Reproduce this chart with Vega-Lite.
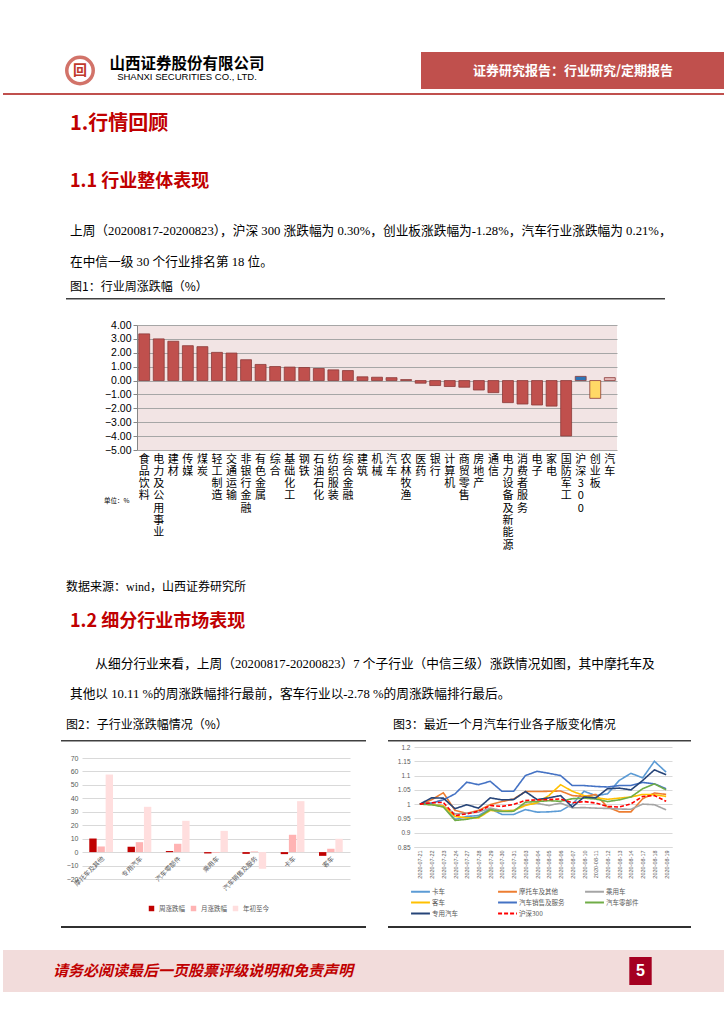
{
  "$schema": "https://vega.github.io/schema/vega-lite/v6.json",
  "background": "white",
  "padding": {"left": 0, "top": 50, "right": 0, "bottom": 0},
  "config": {
    "view": {"stroke": null},
    "font": "Noto Sans CJK SC",
    "title": {"anchor": "start", "frame": "group", "offset": 0, "font": "Noto Sans CJK SC", "fontWeight": "normal", "color": "#000"}
  },
  "datasets": {
    "blank": [{}],
    "industry": [
      {"name": "食品饮料", "v": 3.36, "grp": "行业"},
      {"name": "电力及公用事业", "v": 3.0, "grp": "行业"},
      {"name": "建材", "v": 2.83, "grp": "行业"},
      {"name": "传媒", "v": 2.51, "grp": "行业"},
      {"name": "煤炭", "v": 2.44, "grp": "行业"},
      {"name": "轻工制造", "v": 2.03, "grp": "行业"},
      {"name": "交通运输", "v": 1.98, "grp": "行业"},
      {"name": "非银行金融", "v": 1.5, "grp": "行业"},
      {"name": "有色金属", "v": 1.16, "grp": "行业"},
      {"name": "综合", "v": 1.01, "grp": "行业"},
      {"name": "基础化工", "v": 0.97, "grp": "行业"},
      {"name": "钢铁", "v": 0.94, "grp": "行业"},
      {"name": "石油石化", "v": 0.87, "grp": "行业"},
      {"name": "纺织服装", "v": 0.77, "grp": "行业"},
      {"name": "综合金融", "v": 0.72, "grp": "行业"},
      {"name": "建筑", "v": 0.27, "grp": "行业"},
      {"name": "机械", "v": 0.24, "grp": "行业"},
      {"name": "汽车", "v": 0.21, "grp": "行业"},
      {"name": "农林牧渔", "v": 0.07, "grp": "行业"},
      {"name": "医药", "v": -0.19, "grp": "行业"},
      {"name": "银行", "v": -0.36, "grp": "行业"},
      {"name": "计算机", "v": -0.43, "grp": "行业"},
      {"name": "商贸零售", "v": -0.48, "grp": "行业"},
      {"name": "房地产", "v": -0.68, "grp": "行业"},
      {"name": "通信", "v": -0.87, "grp": "行业"},
      {"name": "电力设备及新能源", "v": -1.59, "grp": "行业"},
      {"name": "消费者服务", "v": -1.69, "grp": "行业"},
      {"name": "电子", "v": -1.76, "grp": "行业"},
      {"name": "家电", "v": -1.84, "grp": "行业"},
      {"name": "国防军工", "v": -3.99, "grp": "行业"},
      {"name": "沪深300", "v": 0.3, "grp": "沪深300"},
      {"name": "创业板", "v": -1.28, "grp": "创业板"},
      {"name": "汽车 ", "v": 0.21, "grp": "汽车"}
    ],
    "sub": [
      {"sub": "摩托车及其他", "series": "周涨跌幅", "v": 10.11},
      {"sub": "摩托车及其他", "series": "月涨跌幅", "v": 4.2},
      {"sub": "摩托车及其他", "series": "年初至今", "v": 57.7},
      {"sub": "专用汽车", "series": "周涨跌幅", "v": 4.0},
      {"sub": "专用汽车", "series": "月涨跌幅", "v": 7.4},
      {"sub": "专用汽车", "series": "年初至今", "v": 33.7},
      {"sub": "汽车零部件", "series": "周涨跌幅", "v": 0.8},
      {"sub": "汽车零部件", "series": "月涨跌幅", "v": 6.2},
      {"sub": "汽车零部件", "series": "年初至今", "v": 23.3},
      {"sub": "乘用车", "series": "周涨跌幅", "v": -1.0},
      {"sub": "乘用车", "series": "月涨跌幅", "v": -0.5},
      {"sub": "乘用车", "series": "年初至今", "v": 15.8},
      {"sub": "汽车销售及服务", "series": "周涨跌幅", "v": -1.3},
      {"sub": "汽车销售及服务", "series": "月涨跌幅", "v": 0.5},
      {"sub": "汽车销售及服务", "series": "年初至今", "v": -12.4},
      {"sub": "卡车", "series": "周涨跌幅", "v": -1.5},
      {"sub": "卡车", "series": "月涨跌幅", "v": 12.9},
      {"sub": "卡车", "series": "年初至今", "v": 37.9},
      {"sub": "客车", "series": "周涨跌幅", "v": -2.78},
      {"sub": "客车", "series": "月涨跌幅", "v": 2.5},
      {"sub": "客车", "series": "年初至今", "v": 9.9}
    ],
    "lines": [
      {"d": "2020-07-21", "s": "卡车", "v": 1.0}, {"d": "2020-07-22", "s": "卡车", "v": 1.0}, {"d": "2020-07-23", "s": "卡车", "v": 0.994}, {"d": "2020-07-24", "s": "卡车", "v": 0.947}, {"d": "2020-07-27", "s": "卡车", "v": 0.957}, {"d": "2020-07-28", "s": "卡车", "v": 0.96}, {"d": "2020-07-29", "s": "卡车", "v": 0.984}, {"d": "2020-07-30", "s": "卡车", "v": 0.964}, {"d": "2020-07-31", "s": "卡车", "v": 0.964}, {"d": "2020-08-03", "s": "卡车", "v": 0.981}, {"d": "2020-08-04", "s": "卡车", "v": 0.972}, {"d": "2020-08-05", "s": "卡车", "v": 0.973}, {"d": "2020-08-06", "s": "卡车", "v": 0.976}, {"d": "2020-08-07", "s": "卡车", "v": 1.0}, {"d": "2020-08-10", "s": "卡车", "v": 1.045}, {"d": "2020-08-11", "s": "卡车", "v": 1.03}, {"d": "2020-08-12", "s": "卡车", "v": 1.036}, {"d": "2020-08-13", "s": "卡车", "v": 1.083}, {"d": "2020-08-14", "s": "卡车", "v": 1.108}, {"d": "2020-08-17", "s": "卡车", "v": 1.092}, {"d": "2020-08-18", "s": "卡车", "v": 1.15}, {"d": "2020-08-19", "s": "卡车", "v": 1.112},
      {"d": "2020-07-21", "s": "摩托车及其他", "v": 1.0}, {"d": "2020-07-22", "s": "摩托车及其他", "v": 1.015}, {"d": "2020-07-23", "s": "摩托车及其他", "v": 1.04}, {"d": "2020-07-24", "s": "摩托车及其他", "v": 0.978}, {"d": "2020-07-27", "s": "摩托车及其他", "v": 0.968}, {"d": "2020-07-28", "s": "摩托车及其他", "v": 0.978}, {"d": "2020-07-29", "s": "摩托车及其他", "v": 0.998}, {"d": "2020-07-30", "s": "摩托车及其他", "v": 1.009}, {"d": "2020-07-31", "s": "摩托车及其他", "v": 1.018}, {"d": "2020-08-03", "s": "摩托车及其他", "v": 1.044}, {"d": "2020-08-04", "s": "摩托车及其他", "v": 1.044}, {"d": "2020-08-05", "s": "摩托车及其他", "v": 1.045}, {"d": "2020-08-06", "s": "摩托车及其他", "v": 1.046}, {"d": "2020-08-07", "s": "摩托车及其他", "v": 1.03}, {"d": "2020-08-10", "s": "摩托车及其他", "v": 1.027}, {"d": "2020-08-11", "s": "摩托车及其他", "v": 1.034}, {"d": "2020-08-12", "s": "摩托车及其他", "v": 0.99}, {"d": "2020-08-13", "s": "摩托车及其他", "v": 0.973}, {"d": "2020-08-14", "s": "摩托车及其他", "v": 0.973}, {"d": "2020-08-17", "s": "摩托车及其他", "v": 1.019}, {"d": "2020-08-18", "s": "摩托车及其他", "v": 1.039}, {"d": "2020-08-19", "s": "摩托车及其他", "v": 1.034},
      {"d": "2020-07-21", "s": "乘用车", "v": 1.0}, {"d": "2020-07-22", "s": "乘用车", "v": 0.999}, {"d": "2020-07-23", "s": "乘用车", "v": 0.994}, {"d": "2020-07-24", "s": "乘用车", "v": 0.966}, {"d": "2020-07-27", "s": "乘用车", "v": 0.968}, {"d": "2020-07-28", "s": "乘用车", "v": 0.972}, {"d": "2020-07-29", "s": "乘用车", "v": 0.986}, {"d": "2020-07-30", "s": "乘用车", "v": 0.978}, {"d": "2020-07-31", "s": "乘用车", "v": 0.978}, {"d": "2020-08-03", "s": "乘用车", "v": 0.999}, {"d": "2020-08-04", "s": "乘用车", "v": 1.003}, {"d": "2020-08-05", "s": "乘用车", "v": 0.995}, {"d": "2020-08-06", "s": "乘用车", "v": 1.004}, {"d": "2020-08-07", "s": "乘用车", "v": 0.987}, {"d": "2020-08-10", "s": "乘用车", "v": 0.988}, {"d": "2020-08-11", "s": "乘用车", "v": 0.986}, {"d": "2020-08-12", "s": "乘用车", "v": 0.985}, {"d": "2020-08-13", "s": "乘用车", "v": 0.983}, {"d": "2020-08-14", "s": "乘用车", "v": 0.982}, {"d": "2020-08-17", "s": "乘用车", "v": 1.0}, {"d": "2020-08-18", "s": "乘用车", "v": 0.998}, {"d": "2020-08-19", "s": "乘用车", "v": 0.98},
      {"d": "2020-07-21", "s": "客车", "v": 1.0}, {"d": "2020-07-22", "s": "客车", "v": 0.999}, {"d": "2020-07-23", "s": "客车", "v": 0.993}, {"d": "2020-07-24", "s": "客车", "v": 0.957}, {"d": "2020-07-27", "s": "客车", "v": 0.952}, {"d": "2020-07-28", "s": "客车", "v": 0.952}, {"d": "2020-07-29", "s": "客车", "v": 0.978}, {"d": "2020-07-30", "s": "客车", "v": 0.975}, {"d": "2020-07-31", "s": "客车", "v": 0.978}, {"d": "2020-08-03", "s": "客车", "v": 0.995}, {"d": "2020-08-04", "s": "客车", "v": 1.005}, {"d": "2020-08-05", "s": "客车", "v": 1.03}, {"d": "2020-08-06", "s": "客车", "v": 1.068}, {"d": "2020-08-07", "s": "客车", "v": 1.045}, {"d": "2020-08-10", "s": "客车", "v": 1.03}, {"d": "2020-08-11", "s": "客车", "v": 1.022}, {"d": "2020-08-12", "s": "客车", "v": 1.017}, {"d": "2020-08-13", "s": "客车", "v": 1.021}, {"d": "2020-08-14", "s": "客车", "v": 1.025}, {"d": "2020-08-17", "s": "客车", "v": 1.034}, {"d": "2020-08-18", "s": "客车", "v": 1.033}, {"d": "2020-08-19", "s": "客车", "v": 1.027},
      {"d": "2020-07-21", "s": "汽车销售及服务", "v": 1.0}, {"d": "2020-07-22", "s": "汽车销售及服务", "v": 1.004}, {"d": "2020-07-23", "s": "汽车销售及服务", "v": 1.015}, {"d": "2020-07-24", "s": "汽车销售及服务", "v": 1.036}, {"d": "2020-07-27", "s": "汽车销售及服务", "v": 1.077}, {"d": "2020-07-28", "s": "汽车销售及服务", "v": 1.068}, {"d": "2020-07-29", "s": "汽车销售及服务", "v": 1.08}, {"d": "2020-07-30", "s": "汽车销售及服务", "v": 1.045}, {"d": "2020-07-31", "s": "汽车销售及服务", "v": 1.045}, {"d": "2020-08-03", "s": "汽车销售及服务", "v": 1.1}, {"d": "2020-08-04", "s": "汽车销售及服务", "v": 1.115}, {"d": "2020-08-05", "s": "汽车销售及服务", "v": 1.108}, {"d": "2020-08-06", "s": "汽车销售及服务", "v": 1.1}, {"d": "2020-08-07", "s": "汽车销售及服务", "v": 1.065}, {"d": "2020-08-10", "s": "汽车销售及服务", "v": 1.065}, {"d": "2020-08-11", "s": "汽车销售及服务", "v": 1.062}, {"d": "2020-08-12", "s": "汽车销售及服务", "v": 1.06}, {"d": "2020-08-13", "s": "汽车销售及服务", "v": 1.065}, {"d": "2020-08-14", "s": "汽车销售及服务", "v": 1.065}, {"d": "2020-08-17", "s": "汽车销售及服务", "v": 1.076}, {"d": "2020-08-18", "s": "汽车销售及服务", "v": 1.071}, {"d": "2020-08-19", "s": "汽车销售及服务", "v": 1.054},
      {"d": "2020-07-21", "s": "汽车零部件", "v": 1.0}, {"d": "2020-07-22", "s": "汽车零部件", "v": 0.998}, {"d": "2020-07-23", "s": "汽车零部件", "v": 0.99}, {"d": "2020-07-24", "s": "汽车零部件", "v": 0.943}, {"d": "2020-07-27", "s": "汽车零部件", "v": 0.947}, {"d": "2020-07-28", "s": "汽车零部件", "v": 0.955}, {"d": "2020-07-29", "s": "汽车零部件", "v": 0.981}, {"d": "2020-07-30", "s": "汽车零部件", "v": 0.974}, {"d": "2020-07-31", "s": "汽车零部件", "v": 0.975}, {"d": "2020-08-03", "s": "汽车零部件", "v": 1.007}, {"d": "2020-08-04", "s": "汽车零部件", "v": 1.009}, {"d": "2020-08-05", "s": "汽车零部件", "v": 1.012}, {"d": "2020-08-06", "s": "汽车零部件", "v": 1.01}, {"d": "2020-08-07", "s": "汽车零部件", "v": 1.019}, {"d": "2020-08-10", "s": "汽车零部件", "v": 1.021}, {"d": "2020-08-11", "s": "汽车零部件", "v": 1.018}, {"d": "2020-08-12", "s": "汽车零部件", "v": 1.009}, {"d": "2020-08-13", "s": "汽车零部件", "v": 1.015}, {"d": "2020-08-14", "s": "汽车零部件", "v": 1.025}, {"d": "2020-08-17", "s": "汽车零部件", "v": 1.054}, {"d": "2020-08-18", "s": "汽车零部件", "v": 1.071}, {"d": "2020-08-19", "s": "汽车零部件", "v": 1.05},
      {"d": "2020-07-21", "s": "专用汽车", "v": 1.0}, {"d": "2020-07-22", "s": "专用汽车", "v": 1.022}, {"d": "2020-07-23", "s": "专用汽车", "v": 1.021}, {"d": "2020-07-24", "s": "专用汽车", "v": 0.984}, {"d": "2020-07-27", "s": "专用汽车", "v": 0.998}, {"d": "2020-07-28", "s": "专用汽车", "v": 0.986}, {"d": "2020-07-29", "s": "专用汽车", "v": 1.022}, {"d": "2020-07-30", "s": "专用汽车", "v": 1.015}, {"d": "2020-07-31", "s": "专用汽车", "v": 1.016}, {"d": "2020-08-03", "s": "专用汽车", "v": 1.044}, {"d": "2020-08-04", "s": "专用汽车", "v": 1.016}, {"d": "2020-08-05", "s": "专用汽车", "v": 1.022}, {"d": "2020-08-06", "s": "专用汽车", "v": 1.03}, {"d": "2020-08-07", "s": "专用汽车", "v": 0.99}, {"d": "2020-08-10", "s": "专用汽车", "v": 1.025}, {"d": "2020-08-11", "s": "专用汽车", "v": 1.022}, {"d": "2020-08-12", "s": "专用汽车", "v": 1.054}, {"d": "2020-08-13", "s": "专用汽车", "v": 1.056}, {"d": "2020-08-14", "s": "专用汽车", "v": 1.05}, {"d": "2020-08-17", "s": "专用汽车", "v": 1.083}, {"d": "2020-08-18", "s": "专用汽车", "v": 1.12}, {"d": "2020-08-19", "s": "专用汽车", "v": 1.103},
      {"d": "2020-07-21", "s": "沪深300", "v": 1.0}, {"d": "2020-07-22", "s": "沪深300", "v": 1.005}, {"d": "2020-07-23", "s": "沪深300", "v": 1.006}, {"d": "2020-07-24", "s": "沪深300", "v": 0.96}, {"d": "2020-07-27", "s": "沪深300", "v": 0.966}, {"d": "2020-07-28", "s": "沪深300", "v": 0.975}, {"d": "2020-07-29", "s": "沪深300", "v": 0.995}, {"d": "2020-07-30", "s": "沪深300", "v": 0.992}, {"d": "2020-07-31", "s": "沪深300", "v": 0.999}, {"d": "2020-08-03", "s": "沪深300", "v": 1.013}, {"d": "2020-08-04", "s": "沪深300", "v": 1.015}, {"d": "2020-08-05", "s": "沪深300", "v": 1.016}, {"d": "2020-08-06", "s": "沪深300", "v": 1.018}, {"d": "2020-08-07", "s": "沪深300", "v": 1.005}, {"d": "2020-08-10", "s": "沪深300", "v": 1.009}, {"d": "2020-08-11", "s": "沪深300", "v": 1.004}, {"d": "2020-08-12", "s": "沪深300", "v": 0.992}, {"d": "2020-08-13", "s": "沪深300", "v": 0.99}, {"d": "2020-08-14", "s": "沪深300", "v": 1.001}, {"d": "2020-08-17", "s": "沪深300", "v": 1.027}, {"d": "2020-08-18", "s": "沪深300", "v": 1.03}, {"d": "2020-08-19", "s": "沪深300", "v": 1.01}
    ]
  },
  "columns": 1,
  "align": "none",
  "bounds": "full",
  "spacing": 0,
  "resolve": {"scale": {"color": "independent", "strokeDash": "independent"}, "legend": {"color": "independent", "strokeDash": "independent"}},
  "concat": [
    {
      "spacing": 0,
      "hconcat": [
        {"width": 56, "height": 37, "data": {"name": "blank"}, "mark": {"type": "point", "opacity": 0}},
        {"width": 30, "height": 37, "data": {"values": [{"t": "回"}]}, "layer": [
          {"mark": {"type": "point", "shape": "circle", "size": 700, "filled": false, "stroke": "#c0392b", "strokeWidth": 3.5}},
          {"mark": {"type": "text", "fontSize": 14, "fontWeight": "bold", "color": "#c0392b"}, "encoding": {"text": {"field": "t"}}}
        ]},
        {"width": 4, "height": 37, "data": {"name": "blank"}, "mark": {"type": "point", "opacity": 0}},
        {"width": 160, "height": 37, "layer": [
          {"data": {"values": [{"line": 1, "t": "山西证券股份有限公司"}]}, "mark": {"type": "text", "fontSize": 15.5, "fontWeight": "bold", "color": "#000"}, "encoding": {"y": {"field": "line", "type": "ordinal", "scale": {"domain": [1, 2], "padding": 0.92}, "axis": null}, "text": {"field": "t"}}},
          {"data": {"values": [{"line": 2, "t": "SHANXI SECURITIES CO., LTD."}]}, "mark": {"type": "text", "fontSize": 9.5, "font": "Liberation Sans", "color": "#000"}, "encoding": {"y": {"field": "line", "type": "ordinal", "scale": {"domain": [1, 2], "padding": 0.92}, "axis": null}, "text": {"field": "t"}}}
        ]},
        {"width": 154, "height": 37, "data": {"name": "blank"}, "mark": {"type": "point", "opacity": 0}},
        {"width": 304, "height": 37, "view": {"fill": "#c0504d"}, "data": {"values": [{"t": "证券研究报告：行业研究/定期报告"}]}, "mark": {"type": "text", "color": "#ffffff", "fontSize": 13, "fontWeight": "bold"}, "encoding": {"text": {"field": "t"}}}
      ]
    },
    {"width": 724, "height": 2, "view": {"fill": "#c0504d"}, "data": {"name": "blank"}, "mark": {"type": "point", "opacity": 0}},
    {"width": 1, "height": 16, "data": {"name": "blank"}, "mark": {"type": "point", "opacity": 0}},
    {"width": 724, "height": 1, "data": {"name": "blank"}, "mark": {"type": "point", "opacity": 0},
     "title": {"text": "1.行情回顾", "dx": 67, "fontSize": 20, "fontWeight": "bold", "color": "#c00000"}},
    {"width": 1, "height": 29, "data": {"name": "blank"}, "mark": {"type": "point", "opacity": 0}},
    {"width": 724, "height": 1, "data": {"name": "blank"}, "mark": {"type": "point", "opacity": 0},
     "title": {"text": "1.1 行业整体表现", "subtitle": ["上周（20200817-20200823），沪深 300 涨跌幅为 0.30%，创业板涨跌幅为-1.28%，汽车行业涨跌幅为 0.21%，", "在中信一级 30 个行业排名第 18 位。"], "dx": 67, "fontSize": 18, "fontWeight": "bold", "color": "#c00000", "subtitleFontSize": 12.7, "subtitleColor": "#000", "subtitleLineHeight": 31, "subtitlePadding": 34, "subtitleFont": "Liberation Serif, Noto Sans CJK SC"}},
    {"width": 1, "height": 2, "data": {"name": "blank"}, "mark": {"type": "point", "opacity": 0, "size": 1, "filled": true, "strokeWidth": 0}},
    {
      "spacing": 0,
      "hconcat": [
        {"width": 63, "height": 1, "data": {"name": "blank"}, "mark": {"type": "point", "opacity": 0}},
        {"width": 599, "height": 1.5, "view": {"fill": "#404040"}, "data": {"name": "blank"}, "mark": {"type": "point", "opacity": 0},
         "title": {"text": "图1：行业周涨跌幅（%）", "dx": 4, "fontSize": 12, "offset": 2}}
      ]
    },
    {"width": 1, "height": 18, "data": {"name": "blank"}, "mark": {"type": "point", "opacity": 0}},
    {
      "spacing": 0,
      "hconcat": [
        {"width": 100, "height": 1, "data": {"name": "blank"}, "mark": {"type": "point", "opacity": 0}},
        {
          "width": 480, "height": 125,
          "view": {"fill": "#f2e4e4"},
          "data": {"name": "industry"},
          "mark": {"type": "bar", "stroke": "#8c3a38", "strokeWidth": 0.8},
          "encoding": {
            "x": {"field": "name", "type": "nominal", "sort": null, "scale": {"paddingInner": 0.25, "paddingOuter": 0.12},
              "axis": {"title": null, "labelExpr": "split(datum.label, '')", "labelAngle": 0, "labelFontSize": 11, "labelLineHeight": 12.3, "labelBaseline": "top", "labelAlign": "center", "labelPadding": 3, "ticks": false, "domain": false, "labelColor": "#000", "labelOverlap": false, "labelBound": false}},
            "y": {"field": "v", "type": "quantitative", "scale": {"domain": [-5, 4], "nice": false},
              "axis": {"values": [-5, -4, -3, -2, -1, 0, 1, 2, 3, 4], "format": ".2f", "labelFont": "Liberation Sans", "labelFontSize": 10.5, "labelColor": "#000", "gridColor": "#a6a6a6", "domainColor": "#868686", "tickColor": "#868686", "tickSize": 4, "labelPadding": 2,
                "title": "单位：%", "titleAngle": 0, "titleFontSize": 6.5, "titleFontWeight": "normal", "titleAlign": "right", "titleBaseline": "middle", "titleX": -8, "titleY": 175, "titleColor": "#000"}},
            "color": {"field": "grp", "type": "nominal", "scale": {"domain": ["行业", "沪深300", "创业板", "汽车"], "range": ["#c0504d", "#2e75b6", "#ffd966", "#e6b9b8"]}, "legend": null}
          }
        }
      ]
    },
    {"width": 1, "height": 29, "data": {"name": "blank"}, "mark": {"type": "point", "opacity": 0}},
    {"width": 724, "height": 1, "data": {"name": "blank"}, "mark": {"type": "point", "opacity": 0},
     "title": {"text": "数据来源：wind，山西证券研究所", "dx": 63, "fontSize": 12, "font": "Liberation Serif, Noto Sans CJK SC"}},
    {"width": 1, "height": 9, "data": {"name": "blank"}, "mark": {"type": "point", "opacity": 0}},
    {"width": 724, "height": 1, "data": {"name": "blank"}, "mark": {"type": "point", "opacity": 0},
     "title": {"text": "1.2 细分行业市场表现", "subtitle": ["\u200b\u3000\u3000从细分行业来看，上周（20200817-20200823）7 个子行业（中信三级）涨跌情况如图，其中摩托车及", "其他以 10.11 %的周涨跌幅排行最前，客车行业以-2.78 %的周涨跌幅排行最后。"], "dx": 67, "fontSize": 18, "fontWeight": "bold", "color": "#c00000", "subtitleFontSize": 12.7, "subtitleColor": "#000", "subtitleLineHeight": 30, "subtitlePadding": 27, "subtitleFont": "Liberation Serif, Noto Sans CJK SC"}},
    {"width": 1, "height": 8, "data": {"name": "blank"}, "mark": {"type": "point", "opacity": 0}},
    {
      "spacing": 0,
      "hconcat": [
        {"width": 58, "height": 1, "data": {"name": "blank"}, "mark": {"type": "point", "opacity": 0}},
        {"width": 305, "height": 1.5, "view": {"fill": "#404040"}, "data": {"name": "blank"}, "mark": {"type": "point", "opacity": 0},
         "title": {"text": "图2：子行业涨跌幅情况（%）", "dx": 5, "fontSize": 12, "offset": 6}},
        {"width": 22, "height": 1, "data": {"name": "blank"}, "mark": {"type": "point", "opacity": 0}},
        {"width": 303, "height": 1.5, "view": {"fill": "#404040"}, "data": {"name": "blank"}, "mark": {"type": "point", "opacity": 0},
         "title": {"text": "图3：最近一个月汽车行业各子版变化情况", "dx": 5, "fontSize": 12, "offset": 6}}
      ]
    },
    {
      "spacing": 47,
      "resolve": {"scale": {"color": "independent", "strokeDash": "independent"}, "legend": {"color": "independent", "strokeDash": "independent"}},
      "hconcat": [
        {"width": 16, "height": 1, "data": {"name": "blank"}, "mark": {"type": "point", "opacity": 0}},
        {
          "width": 268, "height": 132,
          "data": {"name": "sub"},
          "mark": {"type": "bar"},
          "encoding": {
            "x": {"field": "sub", "type": "nominal", "sort": ["摩托车及其他", "专用汽车", "汽车零部件", "乘用车", "汽车销售及服务", "卡车", "客车"], "scale": {"paddingInner": 0.38, "paddingOuter": 0.19},
              "axis": {"title": null, "labelAngle": -45, "labelFontSize": 6.5, "labelColor": "#595959", "ticks": false, "domain": false, "offset": -27, "labelPadding": 3}},
            "xOffset": {"field": "series", "type": "nominal", "sort": ["周涨跌幅", "月涨跌幅", "年初至今"], "scale": {"paddingInner": 0.1}},
            "y": {"field": "v", "type": "quantitative", "scale": {"domain": [-20, 78.2], "nice": false},
              "axis": {"values": [-20, -10, 0, 10, 20, 30, 40, 50, 60, 70], "title": null, "labelFont": "Liberation Sans", "labelFontSize": 7, "labelColor": "#595959", "gridColor": "#d9d9d9", "domain": false, "ticks": false, "labelPadding": 4}},
            "color": {"field": "series", "type": "nominal", "scale": {"domain": ["周涨跌幅", "月涨跌幅", "年初至今"], "range": ["#c00000", "#ffb3b3", "#ffdede"]},
              "legend": {"orient": "none", "legendX": 66, "legendY": 158, "title": null, "direction": "horizontal", "symbolType": "square", "symbolSize": 30, "labelFontSize": 6.5, "labelColor": "#595959", "columnPadding": 5}}
          }
        },
        {
          "width": 258, "height": 100,
          "data": {"name": "lines"},
          "mark": {"type": "line", "strokeWidth": 1.6},
          "encoding": {
            "x": {"field": "d", "type": "ordinal", "scale": {"padding": 0.5},
              "axis": {"title": null, "labelAngle": -90, "labelFont": "Liberation Sans", "labelFontSize": 5.5, "labelColor": "#595959", "ticks": false, "domainColor": "#d9d9d9", "labelPadding": 3}},
            "y": {"field": "v", "type": "quantitative", "scale": {"domain": [0.85, 1.2], "nice": false, "zero": false},
              "axis": {"values": [0.85, 0.9, 0.95, 1, 1.05, 1.1, 1.15, 1.2], "format": ".2~f", "title": null, "labelFont": "Liberation Sans", "labelFontSize": 6.5, "labelColor": "#595959", "gridColor": "#d9d9d9", "domain": false, "ticks": false, "labelPadding": 4}},
            "color": {"field": "s", "type": "nominal", "sort": ["卡车", "摩托车及其他", "乘用车", "客车", "汽车销售及服务", "汽车零部件", "专用汽车", "沪深300"],
              "scale": {"domain": ["卡车", "摩托车及其他", "乘用车", "客车", "汽车销售及服务", "汽车零部件", "专用汽车", "沪深300"], "range": ["#5b9bd5", "#ed7d31", "#a5a5a5", "#ffc000", "#4472c4", "#70ad47", "#264478", "#ff0000"]},
              "legend": {"orient": "bottom", "title": null, "columns": 3, "symbolType": "M-1.8,0H1.8", "symbolSize": 110, "symbolStrokeWidth": 2, "labelOffset": 5, "labelFontSize": 6.5, "labelColor": "#595959", "columnPadding": 16, "rowPadding": 0, "gridAlign": "all", "offset": 6}},
            "strokeDash": {"field": "s", "type": "nominal", "sort": ["卡车", "摩托车及其他", "乘用车", "客车", "汽车销售及服务", "汽车零部件", "专用汽车", "沪深300"],
              "scale": {"domain": ["卡车", "摩托车及其他", "乘用车", "客车", "汽车销售及服务", "汽车零部件", "专用汽车", "沪深300"], "range": [[1, 0], [1, 0], [1, 0], [1, 0], [1, 0], [1, 0], [1, 0], [4, 2]]},
              "legend": {"orient": "bottom", "title": null, "columns": 3, "symbolType": "M-1.8,0H1.8", "symbolSize": 110, "symbolStrokeWidth": 2, "labelOffset": 5, "labelFontSize": 6.5, "labelColor": "#595959", "columnPadding": 16, "rowPadding": 0, "gridAlign": "all", "offset": 6}}
          }
        }
      ]
    },
    {"width": 1, "height": 2, "data": {"name": "blank"}, "mark": {"type": "point", "opacity": 0}},
    {
      "spacing": 0,
      "hconcat": [
        {"width": 58, "height": 2, "data": {"name": "blank"}, "mark": {"type": "point", "opacity": 0}},
        {"width": 305, "height": 2, "view": {"fill": "#303030"}, "data": {"name": "blank"}, "mark": {"type": "point", "opacity": 0}},
        {"width": 22, "height": 2, "data": {"name": "blank"}, "mark": {"type": "point", "opacity": 0}},
        {"width": 303, "height": 2, "view": {"fill": "#303030"}, "data": {"name": "blank"}, "mark": {"type": "point", "opacity": 0}}
      ]
    },
    {"width": 1, "height": 20, "data": {"name": "blank"}, "mark": {"type": "point", "opacity": 0}},
    {
      "spacing": 0,
      "hconcat": [
        {"width": 400, "height": 42, "view": {"fill": "#f2dcdb"}, "data": {"values": [{"t": "请务必阅读最后一页股票评级说明和免责声明"}]}, "mark": {"type": "text", "color": "#c00000", "fontSize": 15, "fontWeight": "bold", "fontStyle": "italic"}, "encoding": {"text": {"field": "t"}}},
        {"width": 226, "height": 42, "view": {"fill": "#f2dcdb"}, "data": {"name": "blank"}, "mark": {"type": "point", "opacity": 0}},
        {"width": 23, "height": 42, "view": {"fill": "#f2dcdb"}, "data": {"values": [{"t": "5"}]}, "layer": [
          {"mark": {"type": "point", "shape": "M-0.8,-1H0.8V1H-0.8Z", "size": 784, "filled": true, "color": "#a50021", "opacity": 1}},
          {"mark": {"type": "text", "color": "#ffffff", "fontSize": 16, "fontWeight": "bold", "font": "Liberation Sans"}, "encoding": {"text": {"field": "t"}}}
        ]},
        {"width": 75, "height": 42, "view": {"fill": "#f2dcdb"}, "data": {"name": "blank"}, "mark": {"type": "point", "opacity": 0}}
      ]
    }
  ]
}
